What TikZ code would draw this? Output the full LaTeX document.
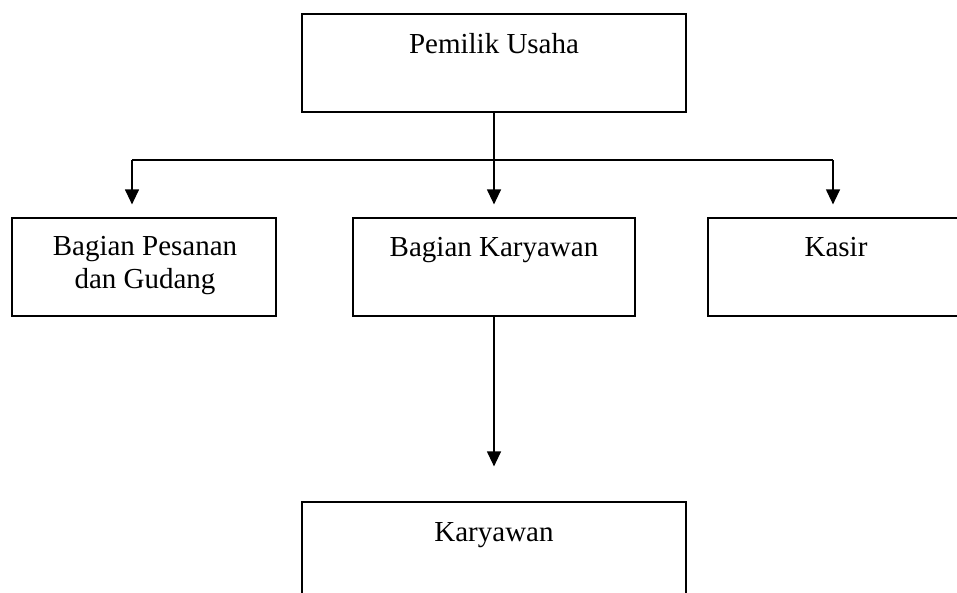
\documentclass[tikz,border=0pt]{standalone}
\usepackage{fontspec}
\setmainfont{Liberation Serif}
\usetikzlibrary{arrows.meta}
\begin{document}
\begin{tikzpicture}[x=1pt,y=-1pt,
  box/.style={draw, line width=1.2pt, rectangle, inner sep=0pt, minimum height=98pt},
  lbl/.style={inner sep=0pt, anchor=base, font=\fontsize{29}{33}\selectfont},
  conn/.style={line width=1.2pt},
  arr/.style={line width=1.2pt, -{Triangle[width=14pt,length=15pt]}}]
\useasboundingbox (0,0) rectangle (957,592);
% boxes
\node[box, minimum width=384pt] (top) at (494,63) {};
\node[box, minimum width=264pt] (left) at (144,267) {};
\node[box, minimum width=282pt] (mid) at (494,267) {};
\node[box, minimum width=256pt] (right) at (836,267) {};
\node[box, minimum width=384pt] (bot) at (494,551) {};
% texts
\node[lbl] (ttop) at (494,53) {Pemilik Usaha};
\node[lbl] (tleft1) at (145,255) {Bagian Pesanan};
\node[lbl] (tleft2) at (145,288) {dan Gudang};
\node[lbl] (tmid) at (494,256) {Bagian Karyawan};
\node[lbl] (tright) at (836,256) {Kasir};
\node[lbl] (tbot) at (494,541) {Karyawan};
% connectors
\coordinate (bl) at (132,160);
\coordinate (br) at (833,160);
\coordinate (lt) at ([yshift=13pt]left.north);
\coordinate (rt) at ([yshift=13pt]right.north);
\draw[conn] (bl) -- (br);
\draw[arr] (top.south) -- ([yshift=13pt]mid.north);
\draw[arr] (bl) -- (bl |- lt);
\draw[arr] (br) -- (br |- rt);
\draw[arr] (mid.south) -- ([yshift=35pt]bot.north);
\end{tikzpicture}
\end{document}
